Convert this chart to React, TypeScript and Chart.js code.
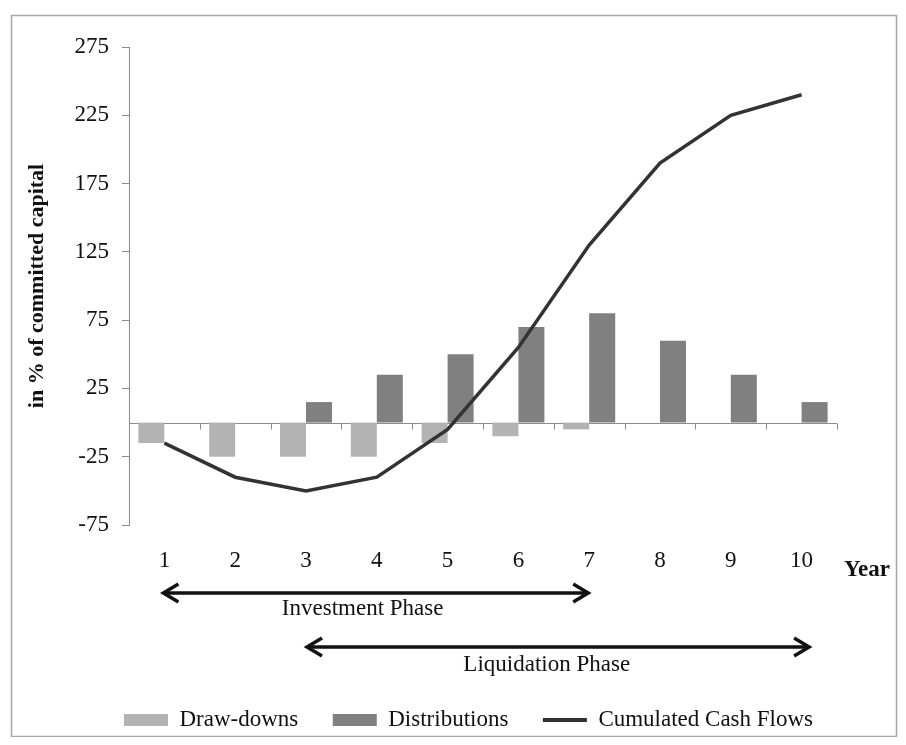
import React, { useEffect, useRef } from "react";
import { Chart, registerables } from "chart.js";

Chart.register(...registerables);

// Years of the fund's life
const YEARS = ["1", "2", "3", "4", "5", "6", "7", "8", "9", "10"];
// Capital called from investors (negative cash flows), % of committed capital
const DRAW_DOWNS = [-15, -25, -25, -25, -15, -10, -5, null, null, null];
// Capital returned to investors, % of committed capital
const DISTRIBUTIONS = [null, null, 15, 35, 50, 70, 80, 60, 35, 15];
// Net cumulated cash flow position at year end
const CUMULATED = [-15, -40, -50, -40, -5, 55, 130, 190, 225, 240];
// Y axis tick values
const Y_TICKS = [-75, -25, 25, 75, 125, 175, 225, 275];

// Phase spans, given as positions on the year axis (0 = year 1)
const INVESTMENT_SPAN = [0, 6];
const LIQUIDATION_SPAN = [2, 9.12];

const FONT = "'Liberation Serif', 'Times New Roman', serif";
const TEXT = "#111111";
const AXIS = "#8c8c8c";

function drawArrow(ctx: CanvasRenderingContext2D, x1: number, x2: number, y: number) {
  ctx.save();
  ctx.strokeStyle = "#111111";
  ctx.lineWidth = 3.5;
  ctx.lineJoin = "miter";
  ctx.lineCap = "butt";
  ctx.beginPath();
  ctx.moveTo(x1 + 2, y);
  ctx.lineTo(x2 - 2, y);
  ctx.stroke();
  ctx.beginPath();
  ctx.moveTo(x1 + 16, y - 9);
  ctx.lineTo(x1 + 1, y);
  ctx.lineTo(x1 + 16, y + 9);
  ctx.moveTo(x2 - 16, y - 9);
  ctx.lineTo(x2 - 1, y);
  ctx.lineTo(x2 - 16, y + 9);
  ctx.stroke();
  ctx.restore();
}

const decorPlugin = {
  id: "decor",
  beforeDatasetsDraw(chart: any) {
    const { ctx, chartArea, scales } = chart;
    const y0 = Math.round(scales.y.getPixelForValue(0)) + 0.5;
    ctx.save();
    ctx.strokeStyle = AXIS;
    ctx.lineWidth = 1;
    ctx.beginPath();
    ctx.moveTo(chartArea.left, y0);
    ctx.lineTo(chartArea.right, y0);
    for (let i = 1; i <= YEARS.length; i++) {
      const x = Math.round(scales.x.getPixelForValue(i - 0.5)) + 0.5;
      ctx.moveTo(x, y0);
      ctx.lineTo(x, y0 + 6);
    }
    ctx.stroke();
    ctx.restore();
  },
  afterDraw(chart: any) {
    const { ctx, scales, width, height } = chart;
    const xs = scales.x;

    // frame around the figure
    ctx.save();
    ctx.strokeStyle = "#a6a6a6";
    ctx.lineWidth = 1.5;
    ctx.strokeRect(3.5, 7.5, width - 5, height - 8);
    ctx.restore();

    // phase arrows
    drawArrow(ctx, xs.getPixelForValue(INVESTMENT_SPAN[0]) - 2, xs.getPixelForValue(INVESTMENT_SPAN[1]), 585);
    drawArrow(ctx, xs.getPixelForValue(LIQUIDATION_SPAN[0]), xs.getPixelForValue(LIQUIDATION_SPAN[1]), 639);

    ctx.save();
    ctx.fillStyle = TEXT;
    ctx.textAlign = "center";
    ctx.textBaseline = "middle";
    ctx.font = `23px ${FONT}`;
    ctx.fillText("Investment Phase", xs.getPixelForValue(2.8), 601);
    ctx.fillText("Liquidation Phase", xs.getPixelForValue(5.4), 657);
    ctx.font = `bold 23px ${FONT}`;
    ctx.textAlign = "left";
    ctx.fillText("Year", 836, 562);
    ctx.restore();
  },
};

export default function App() {
  const canvasRef = useRef<HTMLCanvasElement | null>(null);

  useEffect(() => {
    const canvas = canvasRef.current;
    if (!canvas) return;
    const chart = new Chart(canvas, {
      type: "bar",
      data: {
        labels: YEARS,
        datasets: [
          {
            type: "bar",
            label: "Draw-downs",
            data: DRAW_DOWNS,
            backgroundColor: "#b3b3b3",
            borderWidth: 0,
            categoryPercentage: 0.735,
            barPercentage: 1,
            order: 1,
          },
          {
            type: "bar",
            label: "Distributions",
            data: DISTRIBUTIONS,
            backgroundColor: "#808080",
            borderWidth: 0,
            categoryPercentage: 0.735,
            barPercentage: 1,
            order: 1,
          },
          {
            type: "line",
            label: "Cumulated Cash Flows",
            data: CUMULATED,
            borderColor: "#333333",
            backgroundColor: "#333333",
            borderWidth: 3.5,
            pointRadius: 0,
            tension: 0,
            fill: false,
            order: 0,
          },
        ],
      } as any,
      options: {
        responsive: false,
        animation: false,
        layout: { padding: { top: 39, left: 31, right: 0, bottom: -4.5 } },
        plugins: {
          tooltip: { enabled: false },
          legend: {
            position: "bottom",
            labels: {
              font: { family: FONT, size: 23 },
              color: TEXT,
              usePointStyle: true,
              pointStyleWidth: 44,
              boxHeight: 12,
              padding: 34.5,
              generateLabels: (c: any) =>
                c.data.datasets.map((ds: any, i: number) => {
                  const isLine = ds.type === "line";
                  return {
                    text: ds.label,
                    fillStyle: isLine ? ds.borderColor : ds.backgroundColor,
                    strokeStyle: isLine ? ds.borderColor : ds.backgroundColor,
                    lineWidth: isLine ? 4 : 0,
                    pointStyle: isLine ? "line" : "rect",
                    hidden: false,
                    datasetIndex: i,
                    fontColor: TEXT,
                  };
                }),
            },
          },
        },
        scales: {
          x: {
            type: "category",
            grid: { display: false },
            border: { display: false },
            ticks: { font: { family: FONT, size: 23 }, color: TEXT, padding: 14 },
            afterFit: (s: any) => {
              s.height = 149;
            },
          },
          y: {
            type: "linear",
            position: "left",
            min: -75,
            max: 275,
            grid: { drawOnChartArea: false, drawTicks: true, tickLength: 7, color: AXIS },
            border: { display: true, color: AXIS },
            ticks: { font: { family: FONT, size: 23 }, color: TEXT, padding: 13 },
            afterBuildTicks: (s: any) => {
              s.ticks = Y_TICKS.map((v) => ({ value: v }));
            },
            afterFit: (s: any) => {
              s.width = 90;
            },
            title: {
              display: true,
              text: "in % of committed capital",
              font: { family: FONT, size: 22, weight: "bold" },
              color: TEXT,
              padding: { top: -15, bottom: 0 },
            },
          },
          // empty right-hand margin beside the plot, reserved for the "Year" caption
          margin: {
            type: "linear",
            position: "right",
            display: true,
            grid: { display: false },
            border: { display: false },
            ticks: { display: false },
            afterFit: (s: any) => {
              s.width = 61;
            },
          },
        },
      } as any,
      plugins: [decorPlugin],
    });
    return () => chart.destroy();
  }, []);

  return <canvas ref={canvasRef} width={890} height={729} style={{ display: "block" }} />;
}
